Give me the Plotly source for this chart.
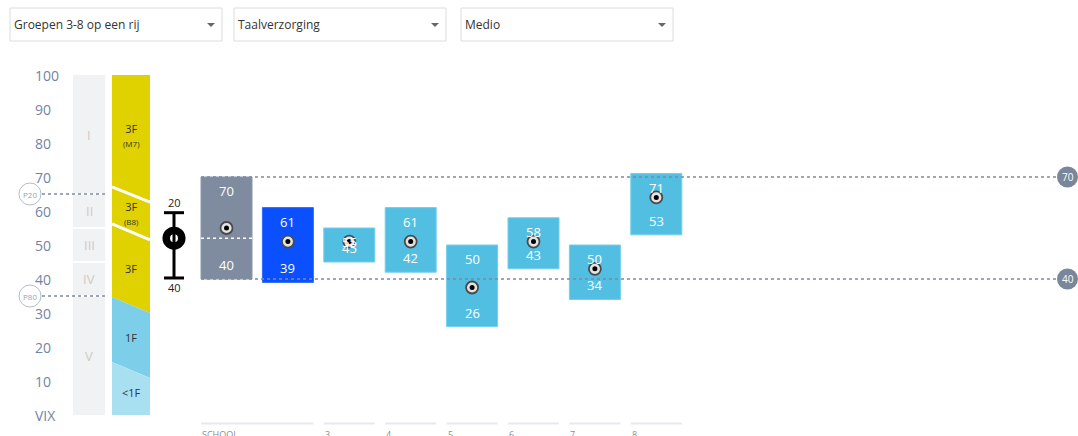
import plotly.graph_objects as go

# ---------------- data ----------------
tick_values = [100, 90, 80, 70, 60, 50, 40, 30, 20, 10, 0]
tick_labels = ["100", "90", "80", "70", "60", "50", "40", "30", "20", "10", "VIX"]

level_names = ["I", "II", "III", "IV", "V"]
level_top = [100, 65, 55, 45, 35]
level_bottom = [65, 55, 45, 35, 0]

ref_names = ["3F", "3F", "3F", "1F", "<1F"]
ref_sub = ["(M7)", "(B8)", "", "", ""]
ref_colors = ["#e0d100", "#e0d100", "#e0d100", "#7dcfe9", "#a8e0f1"]
band_top_left = [100, 67.1, 56.2, 34.7, 15.6]
band_top_right = [100, 62.6, 51.5, 30.0, 10.9]
band_white_sep = [False, True, True, False, False]

perc_names = ["P20", "P80"]
perc_values = [65, 35]

school_mean = 52
school_high = 59.5
school_low = 40.3
school_high_label = "20"
school_low_label = "40"

box_kind = ["school", "school_now", "group", "group", "group", "group", "group", "group"]
box_top = [70, 61, 55, 61, 50, 58, 50, 71]
box_bottom = [40, 39, 45, 42, 26, 43, 34, 53]
box_marker = [55, 51, 51, 51, 37.5, 51, 43, 64]
school_mid_line = 52

group_labels = ["SCHOOL", "3", "4", "5", "6", "7", "8"]
group_spans = [2, 1, 1, 1, 1, 1, 1]

ref_lines = [70, 40]

dropdown_labels = ["Groepen 3-8 op een rij", "Taalverzorging", "Medio"]

# ---------------- styling ----------------
W, H = 1078, 436
OFF = 0  # body margin removed by post_script
FONT = "Open Sans"
kind_color = {"school": "#7f8ca0", "school_now": "#0a50ff", "group": "#52bfe2"}
kind_edge = {"school": "#8c98aa", "school_now": "#2f6bff", "group": "#74cdea"}

fig = go.Figure()
shapes = []
ann = []

Y0PIX, PXU = 415, 3.4  # image pixel of value 0, pixels per unit


def vpix(v):
    return Y0PIX - PXU * v


y_hi = (Y0PIX - OFF) / PXU
y_lo = (Y0PIX - H) / PXU

# ---------------- left tick labels ----------------
for v, t in zip(tick_values, tick_labels):
    ann.append(dict(x=33, y=v, xref="x", yref="y", text=t, showarrow=False,
                    xanchor="left", yanchor="middle",
                    font=dict(family=FONT, size=14, color="#7384a3")))

# ---------------- level column ----------------
LX0, LX1 = 73, 105
for name, t, b in zip(level_names, level_top, level_bottom):
    shapes.append(dict(type="rect", xref="x", yref="y", x0=LX0, x1=LX1, y0=b, y1=t,
                       fillcolor="#f1f2f4", line=dict(width=0), layer="below"))
    ann.append(dict(x=(LX0 + LX1) / 2, y=(t + b) / 2, xref="x", yref="y", text=name,
                    showarrow=False, font=dict(family=FONT, size=13, color="#cfcac4")))
for b in level_bottom[:-1]:
    shapes.append(dict(type="line", xref="x", yref="y", x0=LX0, x1=LX1, y0=b, y1=b,
                       line=dict(color="white", width=2)))

# ---------------- reference column ----------------
RX0, RX1 = 112, 150
n = len(ref_names)
for i in range(n):
    tl, tr = band_top_left[i], band_top_right[i]
    bl = band_top_left[i + 1] if i + 1 < n else 0
    br = band_top_right[i + 1] if i + 1 < n else 0
    path = f"M {RX0},{tl} L {RX1},{tr} L {RX1},{br} L {RX0},{bl} Z"
    shapes.append(dict(type="path", xref="x", yref="y", path=path,
                       fillcolor=ref_colors[i], line=dict(width=0)))
    mid = (tl + tr + bl + br) / 4
    if ref_sub[i]:
        txt = f"{ref_names[i]}<br><span style='font-size:8px'>{ref_sub[i]}</span>"
    else:
        txt = ref_names[i].replace("<", "&lt;")
    ann.append(dict(x=(RX0 + RX1) / 2, y=mid, xref="x", yref="y", text=txt,
                    showarrow=False, align="center",
                    font=dict(family=FONT, size=11, color="#333333")))
for i in range(n):
    if band_white_sep[i]:
        shapes.append(dict(type="line", xref="x", yref="y", x0=RX0, x1=RX1,
                           y0=band_top_left[i], y1=band_top_right[i],
                           line=dict(color="white", width=3)))

# ---------------- percentile markers ----------------
for name, v in zip(perc_names, perc_values):
    shapes.append(dict(type="line", xref="x", yref="y", x0=42, x1=LX1, y0=v, y1=v,
                       line=dict(color="#7d88a0", width=1.5, dash="dot")))
    py = vpix(v)
    shapes.append(dict(type="circle", xref="x", yref="y2", x0=19, x1=41, y0=py - 11, y1=py + 11,
                       fillcolor="white", line=dict(color="#b5bccb", width=1)))
    ann.append(dict(x=30, y=v, xref="x", yref="y", text=name, showarrow=False,
                    font=dict(family=FONT, size=8, color="#9aa3b4")))

# ---------------- reference lines ----------------
BX0 = 201
STEP = 61.4
BW = 51
for v in ref_lines:
    shapes.append(dict(type="line", xref="x", yref="y", x0=BX0, x1=1058, y0=v, y1=v,
                       line=dict(color="#7d88a0", width=1.5, dash="dot"), layer="above"))

# ---------------- boxes ----------------
box_x = [BX0 + i * STEP for i in range(len(box_top))]
for i, (k, t, b) in enumerate(zip(box_kind, box_top, box_bottom)):
    x0 = box_x[i]
    shapes.append(dict(type="rect", xref="x", yref="y", x0=x0, x1=x0 + BW, y0=b, y1=t,
                       fillcolor=kind_color[k], line=dict(color=kind_edge[k], width=1),
                       layer="below"))
    ann.append(dict(x=x0 + BW / 2, y=t, xref="x", yref="y", text=str(t), showarrow=False,
                    yshift=-14, font=dict(family=FONT, size=13, color="white")))
    ann.append(dict(x=x0 + BW / 2, y=b, xref="x", yref="y", text=str(b), showarrow=False,
                    yshift=14, font=dict(family=FONT, size=13, color="white")))
    if k == "school":
        shapes.append(dict(type="line", xref="x", yref="y", x0=x0, x1=x0 + BW,
                           y0=school_mid_line, y1=school_mid_line,
                           line=dict(color="white", width=1.5, dash="dot")))

centers = [x + BW / 2 for x in box_x]
fig.add_trace(go.Scatter(x=centers, y=box_marker, mode="markers", hoverinfo="skip",
                         marker=dict(size=12, color="#e4e4e4",
                                     line=dict(color="#4a4a4a", width=1.8))))
fig.add_trace(go.Scatter(x=centers, y=box_marker, mode="markers", hoverinfo="skip",
                         marker=dict(size=5, color="black")))

# ---------------- school indicator ----------------
SX = 174
shapes.append(dict(type="line", xref="x", yref="y", x0=SX, x1=SX, y0=school_low, y1=school_high,
                   line=dict(color="black", width=3)))
for v in (school_low, school_high):
    shapes.append(dict(type="line", xref="x", yref="y", x0=SX - 10, x1=SX + 10, y0=v, y1=v,
                       line=dict(color="black", width=3)))
fig.add_trace(go.Scatter(x=[SX], y=[school_mean], mode="markers", hoverinfo="skip",
                         marker=dict(size=23, color="black")))
fig.add_trace(go.Scatter(x=[SX], y=[school_mean], mode="markers", hoverinfo="skip",
                         marker=dict(size=8, color="white")))
ann.append(dict(x=SX, y=school_high, xref="x", yref="y", text=school_high_label, showarrow=False,
                yshift=10, font=dict(family=FONT, size=11, color="#222")))
ann.append(dict(x=SX, y=school_low, xref="x", yref="y", text=school_low_label, showarrow=False,
                yshift=-10, font=dict(family=FONT, size=11, color="#222")))

# ---------------- right circle labels ----------------
for v in ref_lines:
    py = vpix(v)
    shapes.append(dict(type="circle", xref="x", yref="y2", x0=1057, x1=1078,
                       y0=py - 10.5, y1=py + 10.5, fillcolor="#7a879b", line=dict(width=0)))
    ann.append(dict(x=1067.5, y=v, xref="x", yref="y", text=str(v), showarrow=False,
                    font=dict(family=FONT, size=10, color="white")))

# ---------------- bottom labels ----------------
col = 0
for lab, span in zip(group_labels, group_spans):
    x0 = box_x[col]
    x1 = box_x[col + span - 1] + BW
    shapes.append(dict(type="line", xref="x", yref="y2", x0=x0, x1=x1, y0=423.5, y1=423.5,
                       line=dict(color="#e6e9ef", width=2)))
    ann.append(dict(x=x0 - 1, y=426, xref="x", yref="y2", text=lab, showarrow=False,
                    xanchor="left", yanchor="top",
                    font=dict(family=FONT, size=9, color="#8a8f98")))
    col += span

# ---------------- dropdowns ----------------
dd_x0 = [10, 234, 461]
dd_w = 212
for x0, lab in zip(dd_x0, dropdown_labels):
    shapes.append(dict(type="rect", xref="x", yref="y2", x0=x0, x1=x0 + dd_w, y0=8, y1=41,
                       fillcolor="white", line=dict(color="#dcdcdc", width=1)))
    ann.append(dict(x=x0 + 2, y=24.5, xref="x", yref="y2", text=lab, showarrow=False,
                    xanchor="left", font=dict(family=FONT, size=12, color="#333333")))
    ax = x0 + dd_w - 11
    shapes.append(dict(type="path", xref="x", yref="y2",
                       path=f"M {ax-4},{23} L {ax+4},{23} L {ax},{27} Z",
                       fillcolor="#666666", line=dict(width=0)))

fig.update_layout(
    width=W - OFF, height=H - OFF,
    margin=dict(l=0, r=0, t=0, b=0),
    paper_bgcolor="white", plot_bgcolor="white",
    showlegend=False,
    xaxis=dict(range=[OFF, W], visible=False, fixedrange=True),
    yaxis=dict(range=[y_lo, y_hi], visible=False, fixedrange=True),
    yaxis2=dict(range=[H, OFF], overlaying="y", visible=False, fixedrange=True),
    shapes=shapes,
    annotations=ann,
)
fig.write_html("out.html", config={"displayModeBar": False},
               post_script="document.body.style.margin='0';"
                           "document.documentElement.style.overflow='hidden';"
                           "document.body.style.overflow='hidden';")
